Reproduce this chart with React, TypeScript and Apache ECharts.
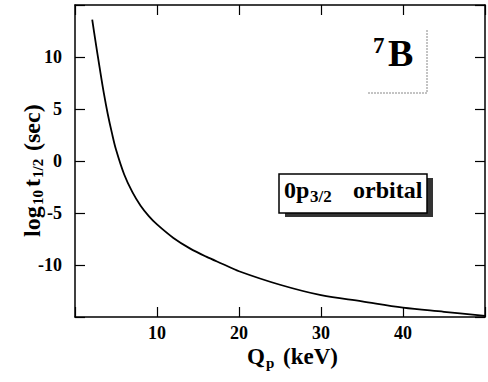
import React, { useEffect, useRef } from "react";
import * as echarts from "echarts";

const qValues = [2.1, 2.5, 3, 3.5, 4, 4.5, 5, 6, 7, 8, 9, 10, 12, 14, 16, 18, 20, 25, 30, 35, 40, 45, 50];
const logHalfLife = [13.6, 11.5, 9.0, 6.6, 4.5, 2.7, 1.1, -1.3, -3.0, -4.3, -5.3, -6.1, -7.4, -8.4, -9.2, -9.9, -10.6, -11.9, -12.9, -13.5, -14.1, -14.5, -14.9];
const xTicks = [10, 20, 30, 40];
const yTicks = [-10, -5, 0, 5, 10];

const SERIF = "Liberation Serif";

function txt(text: string, x: number, y: number, fontSize: number, extra: any = {}) {
  return {
    type: "text",
    x,
    y,
    rotation: extra.rotation || 0,
    style: {
      text,
      fontFamily: SERIF,
      fontWeight: "bold",
      fontSize,
      fill: "#000",
      align: extra.align || "left",
      verticalAlign: "middle",
    },
  };
}

export default function App() {
  const ref = useRef<HTMLDivElement>(null);
  useEffect(() => {
    if (!ref.current) return;
    const chart = echarts.init(ref.current, undefined, { renderer: "svg" });
    const axisLine = { show: true, onZero: false, lineStyle: { color: "#000", width: 1.5 } };
    const axisTick = { show: true, inside: true, length: 10, lineStyle: { color: "#000", width: 1.2 } };
    const labelStyle = { fontFamily: SERIF, fontWeight: "bold" as const, fontSize: 18, color: "#000" };
    const R = Math.PI / 2;
    chart.setOption({
      animation: false,
      grid: { left: 75, right: -2, top: 5, bottom: 65 },
      xAxis: [
        {
          type: "value", min: 0, max: 50, interval: 10, position: "bottom",
          axisLine, axisTick, splitLine: { show: false },
          axisLabel: { ...labelStyle, margin: 7, formatter: (v: number) => (xTicks.includes(v) ? String(v) : "") },
        },
        {
          type: "value", min: 0, max: 50, interval: 10, position: "top",
          axisLine, axisTick, splitLine: { show: false }, axisLabel: { show: false },
        },
      ],
      yAxis: [
        {
          type: "value", min: -15, max: 15, interval: 5, position: "left",
          axisLine, axisTick, splitLine: { show: false },
          axisLabel: { ...labelStyle, margin: 13, formatter: (v: number) => (yTicks.includes(v) ? String(v) : "") },
        },
        {
          type: "value", min: -15, max: 15, interval: 5, position: "right",
          axisLine, axisTick, splitLine: { show: false }, axisLabel: { show: false },
        },
      ],
      series: [
        {
          type: "line",
          xAxisIndex: 0,
          yAxisIndex: 0,
          data: qValues.map((q, i) => [q, logHalfLife[i]]),
          smooth: 0.35,
          showSymbol: false,
          lineStyle: { color: "#000", width: 1.8 },
          clip: true,
        },
      ],
      graphic: [
        // y-axis title: log10 t1/2 (sec), reading bottom to top
        txt("log", 32, 237, 24, { rotation: R }),
        txt("10", 38, 205, 15, { rotation: R }),
        txt("t", 32, 187, 24, { rotation: R }),
        txt("1/2", 38, 178, 15, { rotation: R }),
        txt("(sec)", 32, 151, 24, { rotation: R }),
        // x-axis title: Qp (keV)
        txt("Q", 247, 356, 23),
        txt("p", 266, 363, 15),
        txt("(keV)", 283, 356, 23),
        // 7B label with dotted frame edges
        {
          type: "polyline",
          shape: { points: [[427, 30], [427, 93], [367, 93]] },
          style: { stroke: "#888", lineWidth: 1, lineDash: [2, 1], fill: "none" },
        },
        txt("7", 373, 45, 23),
        txt("B", 388, 52.5, 38),
        // orbital box with shadow
        {
          type: "rect",
          shape: { x: 285, y: 178, width: 148, height: 39 },
          style: { fill: "#333" },
        },
        {
          type: "rect",
          shape: { x: 279, y: 174, width: 148, height: 39 },
          style: { fill: "#fff", stroke: "#000", lineWidth: 1.5 },
        },
        txt("0p", 284, 190, 24),
        txt("3/2", 310, 196.3, 17),
        txt("orbital", 353, 190, 24),
      ],
    });
    return () => chart.dispose();
  }, []);
  return <div ref={ref} style={{ position: "fixed", left: 0, top: 0, width: 488, height: 382, background: "#fff" }} />;
}
